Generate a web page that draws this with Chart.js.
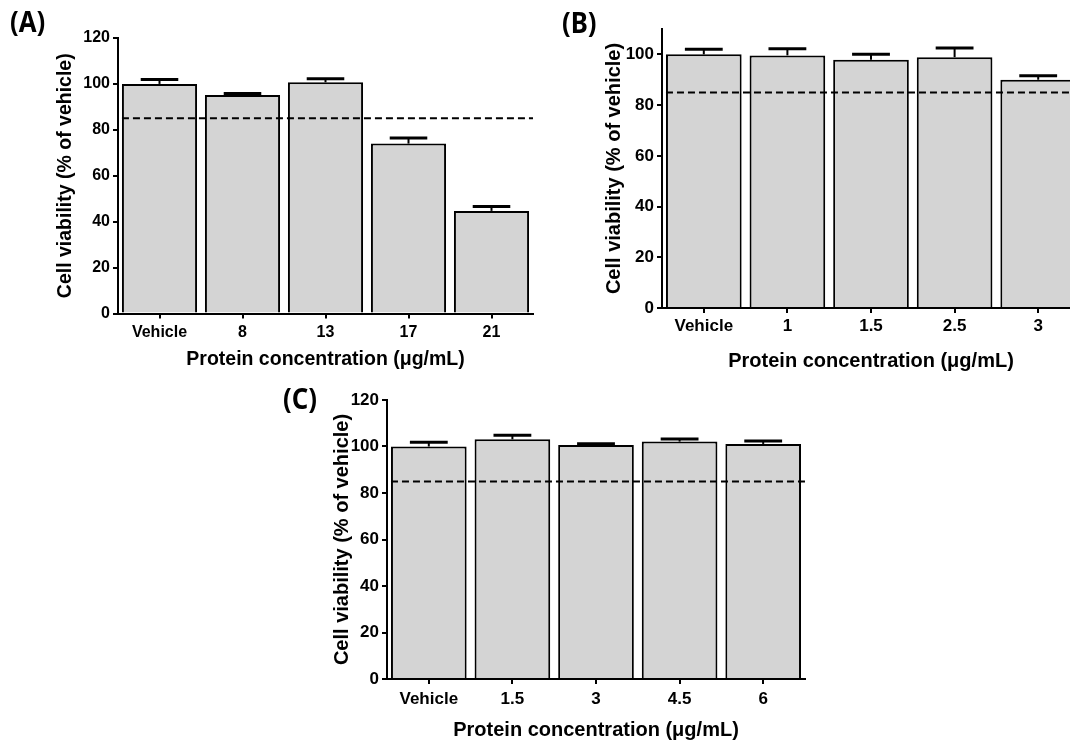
<!DOCTYPE html>
<html>
<head>
<meta charset="utf-8">
<script src="https://cdn.jsdelivr.net/npm/chart.js@4.4.0/dist/chart.umd.min.js"></script>
<style>
  html, body { margin: 0; padding: 0; background: #fff; overflow: hidden; }
  body { width: 1070px; height: 742px; position: relative; }
  canvas { position: absolute; }
  .tag {
    position: absolute;
    font-family: "Noto Sans", "Liberation Sans", sans-serif;
    font-weight: 700;
    font-size: 28px;
    line-height: 28px;
    color: #000;
    transform: scaleX(0.92);
    transform-origin: left top;
  }
</style>
</head>
<body>
<canvas id="chartA" width="560" height="380" style="left:0;top:0"></canvas>
<canvas id="chartB" width="560" height="380" style="left:540px;top:0"></canvas>
<canvas id="chartC" width="560" height="362" style="left:270px;top:383px"></canvas>
<div class="tag" style="left:10px;top:7px">(A)</div>
<div class="tag" style="left:562px;top:8px">(B)</div>
<div class="tag" style="left:283px;top:384px">(C)</div>
<script>
// Panel A
var labelsA = ['Vehicle', '8', '13', '17', '21'];
var meanA = [100, 95.2, 100.7, 74, 44.7];
var semA = [1.9, 0.6, 1.5, 2.4, 1.9];

// Panel B
var labelsB = ['Vehicle', '1', '1.5', '2.5', '3'];
var meanB = [100, 99.6, 97.9, 98.9, 90];
var semB = [2, 2.6, 2.1, 3.6, 1.6];

// Panel C
var labelsC = ['Vehicle', '1.5', '3', '4.5', '6'];
var meanC = [100, 103.1, 100.6, 102.1, 101.1];
var semC = [1.8, 1.7, 0.6, 1.1, 1.3];

var CUTOFF = 85;
var Y_TITLE = 'Cell viability (% of vehicle)';
var X_TITLE = 'Protein concentration (\u03BCg/mL)';

var FONT = "'Liberation Sans', Arial, sans-serif";
var INK = '#000';
var FILL = '#D4D4D4';

// Upward SEM whiskers plus the dashed viability cut-off line.
function overlayPlugin(sem, cutoff) {
  return {
    id: 'overlay',
    afterDatasetsDraw: function (chart) {
      var meta = chart.getDatasetMeta(0);
      var vals = chart.data.datasets[0].data;
      var y = chart.scales.y;
      var ctx = chart.ctx;
      ctx.save();
      ctx.strokeStyle = INK;
      meta.data.forEach(function (bar, i) {
        var top = y.getPixelForValue(vals[i] + sem[i]);
        var half = bar.width * 0.25;
        ctx.lineWidth = 2;
        ctx.beginPath();
        ctx.moveTo(bar.x, bar.y);
        ctx.lineTo(bar.x, top);
        ctx.stroke();
        ctx.lineWidth = 3;
        ctx.beginPath();
        ctx.moveTo(bar.x - half, top);
        ctx.lineTo(bar.x + half, top);
        ctx.stroke();
      });
      var yc = y.getPixelForValue(cutoff);
      var first = meta.data[0];
      ctx.lineWidth = 2;
      ctx.setLineDash([7, 4]);
      ctx.beginPath();
      ctx.moveTo(first.x - first.width / 2, yc);
      ctx.lineTo(chart.chartArea.right, yc);
      ctx.stroke();
      ctx.restore();
    }
  };
}

function drawPanel(id, labels, values, sem, lay) {
  new Chart(document.getElementById(id), {
    type: 'bar',
    data: {
      labels: labels,
      datasets: [{
        data: values,
        backgroundColor: FILL,
        borderColor: INK,
        borderWidth: 2,
        borderSkipped: 'start',
        categoryPercentage: 1,
        barPercentage: 0.905
      }]
    },
    options: {
      responsive: false,
      animation: false,
      devicePixelRatio: 1,
      layout: { padding: lay.pad },
      plugins: { legend: { display: false }, tooltip: { enabled: false } },
      scales: {
        x: {
          grid: { display: true, drawOnChartArea: false, offset: false, color: INK, lineWidth: 2, tickLength: 5 },
          border: { display: true, color: INK, width: 2 },
          ticks: { color: INK, padding: lay.xPad, font: { family: FONT, weight: 'bold', size: lay.tick } },
          title: { display: true, text: X_TITLE, color: INK, padding: { top: 0, bottom: lay.titleBottom },
                   font: { family: FONT, weight: 'bold', size: lay.title } },
          afterFit: function (s) { s.height = lay.xHeight; }
        },
        y: {
          min: 0,
          max: lay.yMax,
          grid: { display: true, drawOnChartArea: false, color: INK, lineWidth: 2, tickLength: 5 },
          border: { display: true, color: INK, width: 2 },
          ticks: { stepSize: 20, includeBounds: false, color: INK, padding: 3,
                   font: { family: FONT, weight: 'bold', size: lay.tick } },
          title: { display: true, text: Y_TITLE, color: INK, padding: { top: 0, bottom: 0 },
                   font: { family: FONT, weight: 'bold', size: lay.title } },
          afterFit: function (s) { s.width = lay.yWidth; }
        }
      }
    },
    plugins: [overlayPlugin(sem, CUTOFF)]
  });
}

drawPanel('chartA', labelsA, meanA, semA, {
  pad: { left: 54, top: 38, right: 27, bottom: 0 },
  yWidth: 64, xHeight: 66.5, yMax: 120,
  tick: 16, title: 19.5, xPad: 4, titleBottom: 9
});

drawPanel('chartB', labelsB, meanB, semB, {
  pad: { left: 62, top: 29, right: 20, bottom: 0 },
  yWidth: 60, xHeight: 72, yMax: 110,
  tick: 17, title: 20, xPad: 3, titleBottom: 7
});

drawPanel('chartC', labelsC, meanC, semC, {
  pad: { left: 60, top: 17, right: 25, bottom: 0 },
  yWidth: 57, xHeight: 66, yMax: 120,
  tick: 17, title: 20, xPad: 5, titleBottom: 3
});
</script>
</body>
</html>
